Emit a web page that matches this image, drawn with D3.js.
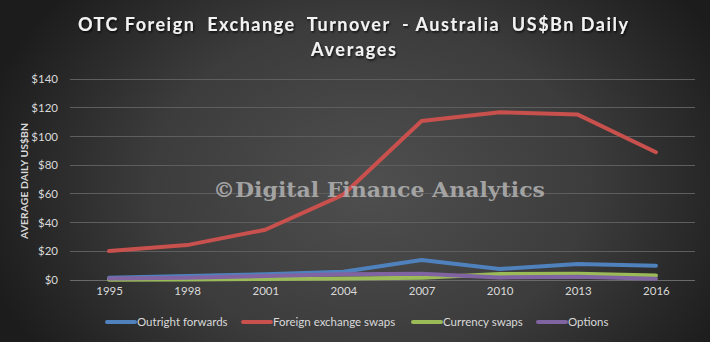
<!DOCTYPE html>
<html>
<head>
<meta charset="utf-8">
<script src="https://cdn.jsdelivr.net/npm/d3@7/dist/d3.min.js"></script>
<style>
  html, body { margin: 0; padding: 0; background: #2a2a2a; }
  svg { display: block; }
  text { white-space: pre; }
</style>
</head>
<body>
<svg id="chart" width="710" height="342"></svg>
<script>
// Survey years (x categories)
const years = ["1995", "1998", "2001", "2004", "2007", "2010", "2013", "2016"];

// Daily average turnover, US$ billions
const outrightForwards = [1.5, 2.8, 4.0, 5.8, 14.0, 7.7, 11.2, 10.0];
const fxSwaps          = [20.2, 24.3, 35.0, 59.5, 110.7, 116.8, 115.2, 89.0];
const currencySwaps    = [0.2, 0.4, 0.7, 1.1, 1.5, 4.2, 4.4, 3.2];
const options          = [1.0, 1.6, 2.8, 4.0, 4.4, 1.8, 2.3, 0.9];

const seriesNames  = ["Outright forwards", "Foreign exchange swaps", "Currency swaps", "Options"];
const seriesColors = ["#4f81bd", "#c8504d", "#9bbb59", "#8064a2"];
const seriesValues = [outrightForwards, fxSwaps, currencySwaps, options];

const yTicks = [0, 20, 40, 60, 80, 100, 120, 140];

const titleLines = ["OTC Foreign  Exchange  Turnover  - Australia  US$Bn Daily", "Averages"];
const yAxisTitle = "AVERAGE DAILY US$BN";
const watermark = "\u00A9Digital Finance Analytics";

const W = 710, H = 342;
const plot = { left: 70, right: 695, top: 79, bottom: 280 };
const font = "Lato, 'Open Sans', sans-serif";

const svg = d3.select("#chart");
const defs = svg.append("defs");

// Dark backdrop, lighter toward the middle
const bg = defs.append("radialGradient")
  .attr("id", "bg").attr("gradientUnits", "userSpaceOnUse")
  .attr("cx", 370).attr("cy", 185).attr("r", 400)
  .attr("gradientTransform", "translate(370,185) scale(1,0.75) translate(-370,-185)");
bg.append("stop").attr("offset", "0%").attr("stop-color", "#4f4f4f");
bg.append("stop").attr("offset", "55%").attr("stop-color", "#3c3c3c");
bg.append("stop").attr("offset", "100%").attr("stop-color", "#1c1c1c");

const shadow = defs.append("filter").attr("id", "shadow")
  .attr("x", "-5%").attr("y", "-20%").attr("width", "110%").attr("height", "140%");
shadow.append("feDropShadow").attr("dx", 1).attr("dy", 1.5)
  .attr("stdDeviation", 1).attr("flood-color", "#000").attr("flood-opacity", 0.8);

svg.append("rect").attr("width", W).attr("height", H).attr("fill", "url(#bg)");

const x = d3.scalePoint().domain(years).range([plot.left, plot.right]).padding(0.5);
const y = d3.scaleLinear().domain([0, 140]).range([plot.bottom, plot.top]);

// Horizontal gridlines
svg.append("g").selectAll("line").data(yTicks).join("line")
  .attr("x1", plot.left).attr("x2", plot.right)
  .attr("y1", d => y(d)).attr("y2", d => y(d))
  .attr("stroke", d => d === 0 ? "#6a6a6a" : "#5e5e5e")
  .attr("stroke-width", 1)
  .attr("shape-rendering", "crispEdges");

// Y axis labels
const yAxis = d3.axisLeft(y).tickValues(yTicks).tickFormat(d => "$" + d).tickSize(0).tickPadding(0);
const yg = svg.append("g").attr("transform", "translate(58,0)").call(yAxis);
yg.select(".domain").remove();
yg.selectAll("text")
  .attr("fill", "#d9d9d9").attr("font-family", font).attr("font-size", 11.5);

// X axis labels
const xAxis = d3.axisBottom(x).tickSize(0).tickPadding(0);
const xg = svg.append("g").attr("transform", "translate(0,287)").call(xAxis);
xg.select(".domain").remove();
xg.selectAll("text")
  .attr("fill", "#d9d9d9").attr("font-family", font).attr("font-size", 11.5);

// Series lines
const line = d3.line().x((d, i) => x(years[i])).y(d => y(d));
svg.append("g").selectAll("path").data(seriesValues).join("path")
  .attr("d", line)
  .attr("fill", "none")
  .attr("stroke", (d, i) => seriesColors[i])
  .attr("stroke-width", 4)
  .attr("stroke-linejoin", "round")
  .attr("stroke-linecap", "round");

// Watermark
svg.append("text")
  .attr("x", 213).attr("y", 197)
  .attr("textLength", 332).attr("lengthAdjust", "spacingAndGlyphs")
  .attr("font-family", "'DejaVu Serif', 'Liberation Serif', serif")
  .attr("font-weight", "bold").attr("font-size", 20)
  .attr("fill", "#b4b4b4").attr("fill-opacity", 0.85)
  .text(watermark);

// Title
svg.append("g").attr("filter", "url(#shadow)").selectAll("text").data(titleLines).join("text")
  .attr("x", (d, i) => i === 0 ? 78 : 311)
  .attr("y", (d, i) => i === 0 ? 31 : 56)
  .attr("textLength", (d, i) => i === 0 ? 550 : 85)
  .attr("lengthAdjust", "spacing")
  .attr("font-family", font).attr("font-weight", "bold").attr("font-size", 18)
  .attr("fill", "#f2f2f2")
  .text(d => d);

// Y axis title
svg.append("text")
  .attr("transform", "translate(28,181) rotate(-90)")
  .attr("text-anchor", "middle")
  .attr("textLength", 116).attr("lengthAdjust", "spacingAndGlyphs")
  .attr("font-family", font).attr("font-weight", "bold").attr("font-size", 10)
  .attr("fill", "#d9d9d9")
  .text(yAxisTitle);

// Legend
const legendX = [107, 243, 413, 538];
const lg = svg.append("g").selectAll("g").data(seriesNames).join("g")
  .attr("transform", (d, i) => `translate(${legendX[i]},322)`);
lg.append("line")
  .attr("x1", 0).attr("x2", 28).attr("y1", 0).attr("y2", 0)
  .attr("stroke", (d, i) => seriesColors[i]).attr("stroke-width", 4)
  .attr("stroke-linecap", "round");
lg.append("text")
  .attr("x", 30).attr("y", 4)
  .attr("font-family", font).attr("font-size", 11.5)
  .attr("fill", "#d9d9d9")
  .text(d => d);
</script>
</body>
</html>
